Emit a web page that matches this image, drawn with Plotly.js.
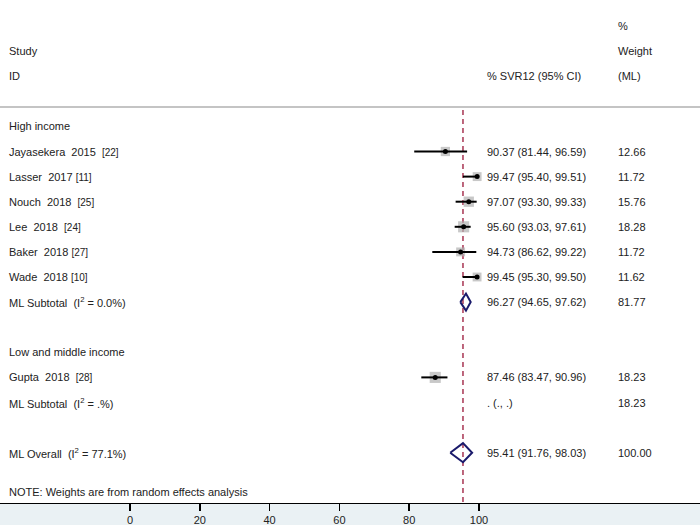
<!DOCTYPE html>
<html><head><meta charset="utf-8">
<script src="https://cdn.plot.ly/plotly-3.0.1.min.js"></script>
<style>body{margin:0;padding:0;}#chart{width:700px;height:525px;}</style>
</head><body><div id="chart"></div>
<script>
// ---- data ----
const studyNames = ["Jayasekera\u00a0\u00a02015\u00a0\u00a0", "Lasser\u00a0\u00a02017\u00a0", "Nouch\u00a0\u00a02018\u00a0\u00a0",
  "Lee\u00a0\u00a02018\u00a0\u00a0", "Baker\u00a0\u00a02018\u00a0", "Wade\u00a0\u00a02018\u00a0", "Gupta\u00a0\u00a02018\u00a0\u00a0"];
const studyRefs = ["[22]", "[11]", "[25]", "[24]", "[27]", "[10]", "[28]"];
const studyRows = [5, 6, 7, 8, 9, 10, 14];
const est = [90.37, 99.47, 97.07, 95.60, 94.73, 99.45, 87.46];
const lo  = [81.44, 95.40, 93.30, 93.03, 86.62, 95.30, 83.47];
const hi  = [96.59, 99.51, 99.33, 97.61, 99.22, 99.50, 90.96];
const weights = [12.66, 11.72, 15.76, 18.28, 11.72, 11.62, 18.23];

const poolLabels = ["ML Subtotal\u00a0\u00a0(I<sup>2</sup> = 0.0%)", "ML Subtotal\u00a0\u00a0(I<sup>2</sup> = .%)", "ML Overall\u00a0\u00a0(I<sup>2</sup> = 77.1%)"];
const poolRows = [11, 15, 17];
const poolEst = [96.27, null, 95.41];
const poolLo  = [94.65, null, 91.76];
const poolHi  = [97.62, null, 98.03];
const poolWeights = ["81.77", "18.23", "100.00"];

const groupLabels = ["High income", "Low and middle income"];
const groupRows = [4, 13];

const tickVals = [0, 20, 40, 60, 80, 100];
const overallLine = 95.41;

// ---- layout helpers ----
const F = "Liberation Sans, Arial, sans-serif";
const txtColor = "#222";
const xLeft = 7/700, xCI = 485/700, xW = 616/700;
const ann = [];
function addText(x, y, text, size) {
  ann.push({xref:'paper', yref:'y', x:x, y:y, text:text, showarrow:false,
    xanchor:'left', yanchor:'middle', font:{family:F, size:size||11, color:txtColor}});
}
addText(xW, 0, "%");
addText(xLeft, 1, "Study");
addText(xW, 1, "Weight");
addText(xLeft, 2, "ID");
addText(xCI, 2, "% SVR12 (95% CI)");
addText(xW, 2, "(ML)");
groupLabels.forEach((g,i)=>addText(xLeft, groupRows[i], g));
studyNames.forEach((s,i)=>{
  addText(xLeft, studyRows[i], s + "<span style='font-size:10px'>" + studyRefs[i] + "</span>");
  addText(xCI, studyRows[i], est[i].toFixed(2)+" ("+lo[i].toFixed(2)+", "+hi[i].toFixed(2)+")");
  addText(xW, studyRows[i], weights[i].toFixed(2));
});
poolLabels.forEach((s,i)=>{
  addText(xLeft, poolRows[i], s);
  const ci = poolEst[i]==null ? ". (., .)" : poolEst[i].toFixed(2)+" ("+poolLo[i].toFixed(2)+", "+poolHi[i].toFixed(2)+")";
  addText(xCI, poolRows[i], ci);
  addText(xW, poolRows[i], poolWeights[i]);
});
addText(xLeft, 18.55, "NOTE: Weights are from random effects analysis");

// ---- traces ----
const traces = [];
traces.push({type:'scatter', mode:'markers', x:est, y:studyRows,
  marker:{symbol:'square', color:'#b0b0b0', size:weights.map(w=>Math.sqrt(w)*2.6), line:{width:0}},
  hoverinfo:'skip', showlegend:false});
const cx=[], cy=[];
lo.forEach((l,i)=>{cx.push(l, hi[i], null); cy.push(studyRows[i], studyRows[i], null);});
traces.push({type:'scatter', mode:'lines', x:cx, y:cy, line:{color:'#000', width:2}, hoverinfo:'skip', showlegend:false});
traces.push({type:'scatter', mode:'markers', x:est, y:studyRows,
  marker:{symbol:'circle', color:'#000', size:5}, hoverinfo:'skip', showlegend:false});
const dh = [0.34, 0, 0.38];
poolEst.forEach((e,i)=>{
  if (e==null) return;
  const r = poolRows[i];
  traces.push({type:'scatter', mode:'lines',
    x:[poolLo[i], e, poolHi[i], e, poolLo[i]],
    y:[r, r-dh[i], r, r+dh[i], r],
    line:{color:'#1a1a6b', width:2}, hoverinfo:'skip', showlegend:false});
});

const shapes = [
  {type:'line', xref:'paper', yref:'y', x0:0, x1:1, y0:3.23, y1:3.23, line:{color:'#c4c4c4', width:2}},
  {type:'line', xref:'x', yref:'y', x0:overallLine, x1:overallLine, y0:3.35, y1:19.1,
    line:{color:'#9a1538', width:1.3, dash:'5px,4px'}, layer:'below'}
];

const ppu = 3.49;
const xmin = -130/ppu, xmax = (700-130)/ppu;
const rowH = 25.1, row0 = 26, plotH = 503;
const ytop = -row0/rowH, ybot = (plotH-row0)/rowH;

const layout = {
  width:700, height:525,
  margin:{l:0, r:0, t:0, b:525-plotH, pad:0},
  paper_bgcolor:'#eaf1f4', plot_bgcolor:'#ffffff',
  showlegend:false,
  xaxis:{range:[xmin, xmax], tickvals:tickVals, ticks:'outside', ticklen:7, tickwidth:1.5, tickcolor:'#000',
    showline:true, linecolor:'#000', linewidth:1, showgrid:false, zeroline:false,
    tickfont:{family:F, size:11, color:txtColor}, fixedrange:true},
  yaxis:{range:[ybot, ytop], visible:false, showgrid:false, zeroline:false, fixedrange:true},
  annotations:ann, shapes:shapes
};
Plotly.newPlot('chart', traces, layout, {displayModeBar:false, staticPlot:true});
</script>
</body></html>
